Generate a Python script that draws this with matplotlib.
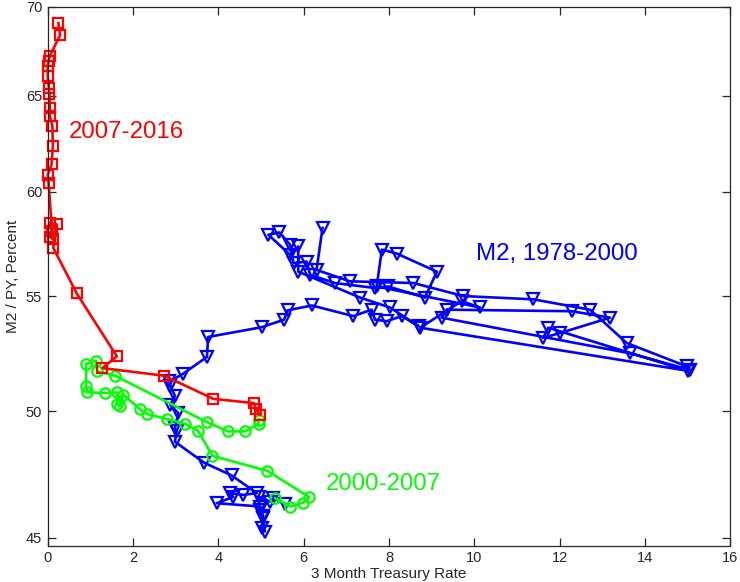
import numpy as np
import matplotlib
matplotlib.use("Agg")
import matplotlib.pyplot as plt
from matplotlib.ticker import FixedLocator, NullLocator, FixedFormatter

plt.rcParams['font.family'] = ['Liberation Sans', 'DejaVu Sans']

# M2 / PY against the 3 month bill rate, three periods
blue_rate = [6.44, 6.30, 7.08, 8.57, 9.74, 11.38, 12.71, 13.57, 14.98, 15.05,
             13.65, 9.23, 9.35, 12.28, 13.18, 12.00, 11.61, 11.73, 15.01, 8.73,
             9.70, 10.13, 7.71, 7.83, 8.18, 9.12, 8.84, 7.98, 7.67, 6.73,
             6.15, 6.07, 5.76, 5.68, 5.43, 5.17, 5.68, 5.87, 5.87, 7.32,
             8.02, 8.69, 8.30, 7.94, 7.67, 7.59, 7.16, 6.19, 5.62, 5.54,
             5.01, 3.76, 3.73, 3.16, 2.85, 2.87, 2.98, 2.87, 3.06, 2.98,
             3.02, 2.98, 3.66, 4.31, 4.90, 4.58, 4.27, 4.35, 3.96, 4.98,
             5.05, 5.01, 5.09, 5.05, 4.98, 4.94, 5.21, 5.29, 5.56]
blue_ratio = [58.23, 56.23, 55.70, 55.62, 55.02, 54.87, 54.40, 52.91, 51.89, 51.74,
              52.46, 54.04, 54.40, 54.33, 54.04, 53.35, 53.14, 53.59, 51.70, 53.59,
              54.79, 54.50, 55.46, 57.19, 57.00, 56.15, 54.95, 55.46, 55.39, 55.62,
              56.00, 56.62, 56.55, 57.42, 58.01, 57.90, 56.94, 57.34, 56.15, 54.95,
              54.50, 53.66, 54.11, 53.88, 53.95, 54.40, 54.11, 54.59, 54.37, 53.95,
              53.61, 53.18, 52.30, 51.56, 51.25, 51.07, 50.64, 50.26, 49.91, 49.29,
              49.16, 48.74, 47.90, 47.39, 46.70, 46.63, 46.70, 46.55, 46.31, 46.18,
              45.80, 45.35, 45.23, 45.73, 46.05, 46.56, 46.37, 46.50, 46.28]

green_rate = [5.33, 5.68, 5.99, 6.13, 5.15, 3.86, 3.52, 3.22, 2.79, 2.32,
              2.16, 1.77, 1.69, 1.62, 1.63, 1.34, 0.93, 0.90, 0.90, 1.13,
              1.16, 1.58, 3.73, 4.23, 4.62, 4.94, 4.94]
green_ratio = [46.50, 46.18, 46.33, 46.54, 47.57, 48.17, 49.19, 49.47, 49.67, 49.88,
               50.08, 50.69, 50.20, 50.30, 50.78, 50.76, 50.78, 51.07, 52.00, 52.14,
               51.68, 51.49, 49.54, 49.16, 49.16, 49.47, 49.64]

red_rate = [4.97, 4.88, 4.83, 3.88, 2.73, 1.28, 1.62, 0.68, 0.13, 0.21,
            0.05, 0.13, 0.05, 0.10, 0.02, 0.00, 0.09, 0.12, 0.11, 0.05,
            0.05, 0.04, 0.03, 0.00, 0.00, 0.02, 0.05, 0.29, 0.25]
red_ratio = [49.84, 50.08, 50.33, 50.51, 51.49, 51.82, 52.33, 55.14, 57.27, 58.40,
             58.48, 57.68, 57.80, 58.10, 60.46, 60.87, 61.39, 62.33, 63.37, 63.91,
             64.36, 65.07, 65.40, 66.07, 66.63, 66.90, 67.19, 68.37, 69.05]

yticks = [45, 50, 55, 60, 65, 70]
xticks = [0, 2, 4, 6, 8, 10, 12, 14, 16]

fig = plt.figure(figsize=(7.4, 5.82), dpi=100)
ax = fig.add_axes([0.0645, 0.0624, 0.9226, 0.9261])

ax.plot(blue_rate, blue_ratio, '-v', color=(0, 0, 1), lw=1.9, ms=8.5,
        mfc='none', mew=1.6, clip_on=False)
ax.plot(green_rate, green_ratio, '-o', color=(0, 1, 0), lw=1.9, ms=7.5,
        mfc='none', mew=1.6, clip_on=False)
ax.plot(red_rate, red_ratio, '-s', color=(1, 0, 0), lw=1.9, ms=6.5,
        mfc='none', mew=1.6, clip_on=False)

ax.text(0.5, 63.05, '2007-2016', color=(1, 0, 0), fontsize=17.3, va='center')
ax.text(10.04, 57.0, 'M2, 1978-2000', color=(0, 0, 1), fontsize=17.3, va='center')
ax.text(6.52, 47.06, '2000-2007', color=(0, 1, 0), fontsize=17.3, va='center')

ax.set_yscale('log')
ax.set_xlim(0, 16)
ax.set_ylim(44.7, 70)
ax.xaxis.set_major_locator(FixedLocator(xticks))
ax.yaxis.set_major_locator(FixedLocator(yticks))
ax.yaxis.set_major_formatter(FixedFormatter([str(t) for t in yticks]))
ax.yaxis.set_minor_locator(NullLocator())

grey = '#262626'
for s in ax.spines.values():
    s.set_color(grey)
    s.set_linewidth(0.9)
ax.tick_params(which='both', direction='in', length=5.5, width=0.9, colors=grey,
               labelsize=10.5, top=True, right=True, pad=4)

ax.set_xlabel('3 Month Treasury Rate', fontsize=11, color=grey, labelpad=1)
ax.set_ylabel('M2 / PY, Percent', fontsize=11, color=grey, labelpad=4)

fig.savefig('out.png', dpi=100)
